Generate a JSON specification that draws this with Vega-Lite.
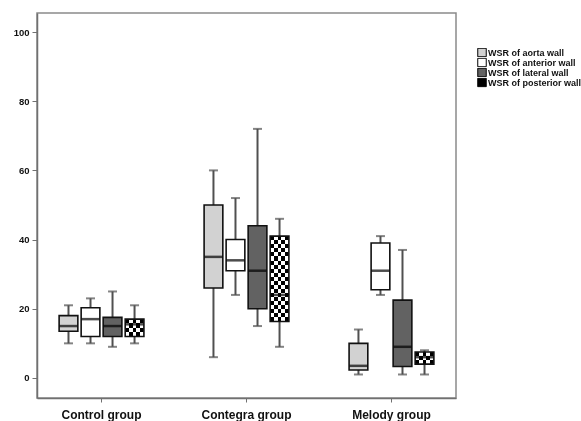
{
  "$schema": "https://vega.github.io/schema/vega-lite/v6.json",
  "autosize": "none",
  "width": 419,
  "height": 385,
  "padding": {"left": 37, "top": 13, "right": 125, "bottom": 23},
  "background": "white",
  "config": {
    "font": "Liberation Sans",
    "view": {"stroke": "#8a8a8a", "strokeWidth": 1.5},
    "axis": {"domainColor": "#707070", "domainWidth": 1.5, "tickColor": "#707070", "grid": false, "labelFont": "Liberation Sans", "labelFontWeight": "bold", "labelColor": "#111"},
    "legend": {"labelFont": "Liberation Sans", "labelFontWeight": "bold", "labelFontSize": 9, "labelColor": "#111", "symbolType": "square", "symbolSize": 72, "symbolStrokeColor": "black", "symbolStrokeWidth": 1, "labelOffset": 1}
  },
  "data": {"values": [
    {"group": "Control group", "series": "WSR of aorta wall", "min": 10, "q1": 13.5, "median": 15, "q3": 18, "max": 21},
    {"group": "Control group", "series": "WSR of anterior wall", "min": 10, "q1": 12, "median": 17, "q3": 20.3, "max": 23},
    {"group": "Control group", "series": "WSR of lateral wall", "min": 9, "q1": 12, "median": 15, "q3": 17.5, "max": 25},
    {"group": "Control group", "series": "WSR of posterior wall", "min": 10, "q1": 12, "median": 15.5, "q3": 17, "max": 21},
    {"group": "Contegra group", "series": "WSR of aorta wall", "min": 6, "q1": 26, "median": 35, "q3": 50, "max": 60},
    {"group": "Contegra group", "series": "WSR of anterior wall", "min": 24, "q1": 31, "median": 34, "q3": 40, "max": 52},
    {"group": "Contegra group", "series": "WSR of lateral wall", "min": 15, "q1": 20, "median": 31, "q3": 44, "max": 72},
    {"group": "Contegra group", "series": "WSR of posterior wall", "min": 9, "q1": 16.3, "median": 24, "q3": 41, "max": 46},
    {"group": "Melody group", "series": "WSR of aorta wall", "min": 1, "q1": 2.3, "median": 3.5, "q3": 10, "max": 14},
    {"group": "Melody group", "series": "WSR of anterior wall", "min": 24, "q1": 25.5, "median": 31, "q3": 39, "max": 41},
    {"group": "Melody group", "series": "WSR of lateral wall", "min": 1, "q1": 3.3, "median": 9, "q3": 22.5, "max": 37},
    {"group": "Melody group", "series": "WSR of posterior wall", "min": 1, "q1": 4, "median": 6, "q3": 7.5, "max": 8}
  ]},
  "encoding": {
    "x": {"field": "group", "type": "nominal", "sort": ["Control group", "Contegra group", "Melody group"],
      "scale": {"paddingInner": 0.4, "paddingOuter": 0.145},
      "axis": {"title": null, "labelAngle": 0, "labelFontSize": 12, "tickSize": 4, "labelPadding": 7}},
    "xOffset": {"field": "series", "type": "nominal",
      "scale": {"domain": ["WSR of aorta wall", "WSR of anterior wall", "WSR of lateral wall", "WSR of posterior wall"], "paddingInner": 0.15, "paddingOuter": 0.05}}
  },
  "layer": [
    {
      "mark": {"type": "rule", "color": "#505050", "strokeWidth": 2},
      "encoding": {
        "y": {"field": "min", "type": "quantitative", "scale": {"domain": [-5.8, 105.5], "nice": false, "zero": false},
          "axis": {"title": null, "values": [0, 20, 40, 60, 80, 100], "labelFontSize": 9.5, "tickSize": 5, "labelPadding": 3}},
        "y2": {"field": "max"}
      }
    },
    {
      "mark": {"type": "tick", "color": "#505050", "size": 9, "thickness": 2},
      "encoding": {"y": {"field": "min", "type": "quantitative"}}
    },
    {
      "mark": {"type": "tick", "color": "#505050", "size": 9, "thickness": 2},
      "encoding": {"y": {"field": "max", "type": "quantitative"}}
    },
    {
      "mark": {"type": "bar", "strokeWidth": 0},
      "encoding": {
        "y": {"field": "q1", "type": "quantitative"},
        "y2": {"field": "q3"},
        "fill": {"field": "series", "type": "nominal",
          "scale": {"domain": ["WSR of aorta wall", "WSR of anterior wall", "WSR of lateral wall", "WSR of posterior wall"], "range": ["#d2d2d2", "#ffffff", "#626262", "#000000"]},
          "legend": {"title": null, "orient": "none", "legendX": 440, "legendY": 35, "rowPadding": 0, "padding": 0, "clipHeight": 9}}
      }
    },
    {
      "transform": [{"filter": "datum.series === 'WSR of posterior wall'"}],
      "mark": {"type": "bar", "strokeWidth": 0,
        "fill": {"gradient": "linear", "x1": 0, "y1": 0, "x2": 1, "y2": 0, "stops": [
          {"offset": 0, "color": "#ffffff"}, {"offset": 0.2, "color": "#ffffff"},
          {"offset": 0.2, "color": "rgba(255,255,255,0)"}, {"offset": 0.4, "color": "rgba(255,255,255,0)"},
          {"offset": 0.4, "color": "#ffffff"}, {"offset": 0.6, "color": "#ffffff"},
          {"offset": 0.6, "color": "rgba(255,255,255,0)"}, {"offset": 0.8, "color": "rgba(255,255,255,0)"},
          {"offset": 0.8, "color": "#ffffff"}, {"offset": 1, "color": "#ffffff"}]}},
      "encoding": {"y": {"field": "q1", "type": "quantitative"}, "y2": {"field": "q3"}}
    },
    {
      "transform": [{"filter": "datum.series === 'WSR of posterior wall' && datum.group === 'Control group'"}],
      "mark": {"type": "bar", "strokeWidth": 0, "blend": "difference",
        "fill": {"gradient": "linear", "x1": 0, "y1": 0, "x2": 0, "y2": 1, "stops": [
          {"offset": 0, "color": "#ffffff"}, {"offset": 0.25, "color": "#ffffff"},
          {"offset": 0.25, "color": "rgba(255,255,255,0)"}, {"offset": 0.5, "color": "rgba(255,255,255,0)"},
          {"offset": 0.5, "color": "#ffffff"}, {"offset": 0.75, "color": "#ffffff"},
          {"offset": 0.75, "color": "rgba(255,255,255,0)"}, {"offset": 1, "color": "rgba(255,255,255,0)"}]}},
      "encoding": {"y": {"field": "q1", "type": "quantitative"}, "y2": {"field": "q3"}}
    },
    {
      "transform": [{"filter": "datum.series === 'WSR of posterior wall' && datum.group === 'Melody group'"}],
      "mark": {"type": "bar", "strokeWidth": 0, "blend": "difference",
        "fill": {"gradient": "linear", "x1": 0, "y1": 0, "x2": 0, "y2": 1, "stops": [
          {"offset": 0, "color": "#ffffff"}, {"offset": 0.333, "color": "#ffffff"},
          {"offset": 0.333, "color": "rgba(255,255,255,0)"}, {"offset": 0.667, "color": "rgba(255,255,255,0)"},
          {"offset": 0.667, "color": "#ffffff"}, {"offset": 1, "color": "#ffffff"}]}},
      "encoding": {"y": {"field": "q1", "type": "quantitative"}, "y2": {"field": "q3"}}
    },
    {
      "transform": [{"filter": "datum.series === 'WSR of posterior wall' && datum.group === 'Contegra group'"}],
      "mark": {"type": "bar", "strokeWidth": 0, "blend": "difference",
        "fill": {"gradient": "linear", "x1": 0, "y1": 0, "x2": 0, "y2": 1, "stops": [
          {"offset": 0, "color": "#ffffff"}, {"offset": 0.0476, "color": "#ffffff"},
          {"offset": 0.0476, "color": "rgba(255,255,255,0)"}, {"offset": 0.0952, "color": "rgba(255,255,255,0)"},
          {"offset": 0.0952, "color": "#ffffff"}, {"offset": 0.1429, "color": "#ffffff"},
          {"offset": 0.1429, "color": "rgba(255,255,255,0)"}, {"offset": 0.1905, "color": "rgba(255,255,255,0)"},
          {"offset": 0.1905, "color": "#ffffff"}, {"offset": 0.2381, "color": "#ffffff"},
          {"offset": 0.2381, "color": "rgba(255,255,255,0)"}, {"offset": 0.2857, "color": "rgba(255,255,255,0)"},
          {"offset": 0.2857, "color": "#ffffff"}, {"offset": 0.3333, "color": "#ffffff"},
          {"offset": 0.3333, "color": "rgba(255,255,255,0)"}, {"offset": 0.381, "color": "rgba(255,255,255,0)"},
          {"offset": 0.381, "color": "#ffffff"}, {"offset": 0.4286, "color": "#ffffff"},
          {"offset": 0.4286, "color": "rgba(255,255,255,0)"}, {"offset": 0.4762, "color": "rgba(255,255,255,0)"},
          {"offset": 0.4762, "color": "#ffffff"}, {"offset": 0.5238, "color": "#ffffff"},
          {"offset": 0.5238, "color": "rgba(255,255,255,0)"}, {"offset": 0.5714, "color": "rgba(255,255,255,0)"},
          {"offset": 0.5714, "color": "#ffffff"}, {"offset": 0.619, "color": "#ffffff"},
          {"offset": 0.619, "color": "rgba(255,255,255,0)"}, {"offset": 0.6667, "color": "rgba(255,255,255,0)"},
          {"offset": 0.6667, "color": "#ffffff"}, {"offset": 0.7143, "color": "#ffffff"},
          {"offset": 0.7143, "color": "rgba(255,255,255,0)"}, {"offset": 0.7619, "color": "rgba(255,255,255,0)"},
          {"offset": 0.7619, "color": "#ffffff"}, {"offset": 0.8095, "color": "#ffffff"},
          {"offset": 0.8095, "color": "rgba(255,255,255,0)"}, {"offset": 0.8571, "color": "rgba(255,255,255,0)"},
          {"offset": 0.8571, "color": "#ffffff"}, {"offset": 0.9048, "color": "#ffffff"},
          {"offset": 0.9048, "color": "rgba(255,255,255,0)"}, {"offset": 0.9524, "color": "rgba(255,255,255,0)"},
          {"offset": 0.9524, "color": "#ffffff"}, {"offset": 1, "color": "#ffffff"}]}},
      "encoding": {"y": {"field": "q1", "type": "quantitative"}, "y2": {"field": "q3"}}
    },
    {
      "mark": {"type": "bar", "filled": false, "color": "#111111", "strokeWidth": 1.6},
      "encoding": {"y": {"field": "q1", "type": "quantitative"}, "y2": {"field": "q3"}}
    },
    {
      "mark": {"type": "tick", "color": "#000000", "size": 18, "thickness": 2.5},
      "encoding": {"y": {"field": "median", "type": "quantitative"}}
    }
  ]
}
